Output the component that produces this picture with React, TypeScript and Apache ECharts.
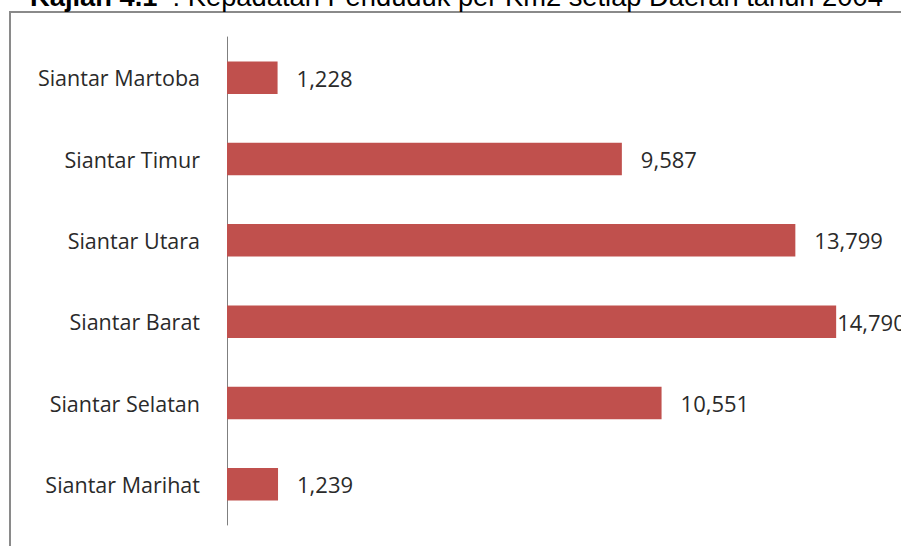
import React, { useEffect, useRef } from "react";
import * as echarts from "echarts";

const categories = [
  "Siantar Martoba",
  "Siantar Timur",
  "Siantar Utara",
  "Siantar Barat",
  "Siantar Selatan",
  "Siantar Marihat",
];
const density = [1228, 9587, 13799, 14790, 10551, 1239];
const titleBold = "Kajian 4.1";
const titleRest = "  : Kepadatan Penduduk per Km2 setiap Daerah tahun 2004";

export default function App() {
  const ref = useRef<HTMLDivElement>(null);
  useEffect(() => {
    if (!ref.current) return;
    const chart = echarts.init(ref.current, null, { renderer: "svg" });
    const font = "Open Sans";
    chart.setOption({
      animation: false,
      graphic: [
        {
          type: "rect",
          shape: { x: 10, y: 12, width: 1000, height: 1000 },
          style: { fill: "none", stroke: "#8a8a8a", lineWidth: 2 },
          silent: true,
        },
        {
          type: "text",
          x: 30,
          y: 9.5,
          style: {
            text: `{b|${titleBold}}{r|${titleRest}}`,
            textVerticalAlign: "bottom",
            rich: {
              b: { fontFamily: "Liberation Sans", fontWeight: "bold", fontSize: 27.3, fill: "#000" },
              r: { fontFamily: "Liberation Sans", fontSize: 27.3, fill: "#000" },
            },
          },
        },
      ],
      grid: { left: 227, right: 15, top: 37, bottom: 21, containLabel: false },
      xAxis: {
        type: "value",
        min: 0,
        max: 16000,
        show: false,
      },
      yAxis: {
        type: "category",
        data: categories,
        inverse: true,
        axisLine: { show: true, lineStyle: { color: "#7f7f7f", width: 1 } },
        axisTick: { show: false },
        axisLabel: {
          margin: 27,
          fontFamily: font,
          fontSize: 21.5,
          color: "#2a2a2a",
        },
      },
      series: [
        {
          type: "bar",
          barWidth: "40%",
          itemStyle: { color: "#C0504D" },
          data: density.map((v, i) => ({
            value: v,
            label: categories[i] === "Siantar Barat" ? { distance: 1 } : undefined,
          })),
          label: {
            show: true,
            position: "right",
            distance: 19,
            fontFamily: font,
            fontSize: 22,
            color: "#2a2a2a",
            formatter: (p: any) => p.value.toLocaleString("en-US"),
          },
        },
      ],
    });
    return () => chart.dispose();
  }, []);
  return (
    <div
      ref={ref}
      style={{ position: "absolute", left: 0, top: 0, width: 901, height: 546, background: "#fff" }}
    />
  );
}
